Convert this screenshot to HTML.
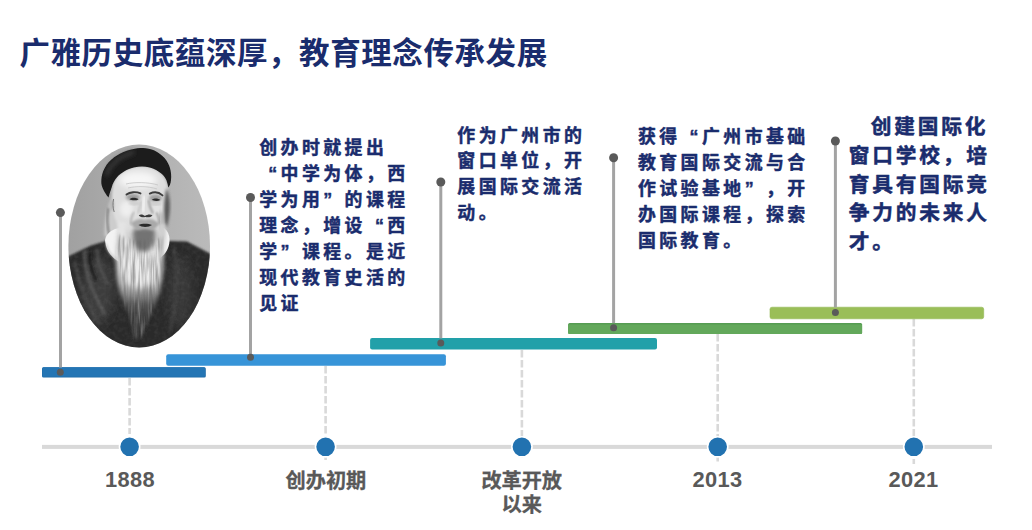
<!DOCTYPE html>
<html lang="zh-CN">
<head>
<meta charset="utf-8">
<title>广雅历史底蕴深厚，教育理念传承发展</title>
<style>
html,body{margin:0;padding:0;background:#fff;}
body{width:1032px;height:530px;position:relative;overflow:hidden;font-family:"Liberation Sans","Noto Sans CJK SC",sans-serif;}
.abs{position:absolute;left:0;top:0;}
</style>
</head>
<body>
<svg class="abs" width="1032" height="530" viewBox="0 0 1032 530">
<!-- timeline axis -->
<rect x="42" y="444.9" width="950" height="4" fill="#d9d9d9"/>
<g stroke="#d9d9d9" stroke-width="2.6" stroke-dasharray="7.5 2.5" fill="none">
<path d="M129.6 378V434"/>
<path d="M325.6 366V460"/>
<path d="M521.9 350V458"/>
<path d="M717.7 334V463"/>
<path d="M913.8 319V464"/>
</g>
<g fill="#2272b0" stroke="#fff" stroke-width="1.6">
<circle cx="129.6" cy="446.8" r="10.1"/>
<circle cx="325.6" cy="446.8" r="10.1"/>
<circle cx="521.9" cy="446.8" r="10.1"/>
<circle cx="717.7" cy="446.8" r="10.1"/>
<circle cx="913.8" cy="446.8" r="10.1"/>
</g>
<!-- bars -->
<rect x="42" y="367.2" width="163.8" height="10.4" rx="1.5" fill="#1f6aa6"/><rect x="42.4" y="367.2" width="162.6" height="9.6" rx="1.3" fill="#2475b4"/>
<rect x="166.2" y="354.2" width="279.7" height="11.5" rx="2" fill="#3794d8"/>
<rect x="370.1" y="338.1" width="286.9" height="11.5" rx="2" fill="#22a0a9"/>
<rect x="568.1" y="322.9" width="294" height="11" rx="1.5" fill="#569c53"/><rect x="568.1" y="324.6" width="294" height="9.3" rx="1.2" fill="#63a85b"/>
<rect x="770" y="307.2" width="213.7" height="11.6" rx="2" fill="#9abe58" stroke="#93b855" stroke-width="0.6"/>
<!-- stems -->
<g stroke="#a3a3a3" stroke-width="3">
<path d="M60.5 212.6V367.5"/>
<path d="M250.5 197.5V354.3"/>
<path d="M440.8 182V338.3"/>
<path d="M613.6 157.7V323.1"/>
<path d="M835.4 141V307.4"/>
</g>
<g fill="#5a5a5a">
<circle cx="60.4" cy="212.6" r="4.5"/><circle cx="60.3" cy="372.3" r="3.5"/>
<circle cx="250.5" cy="197.5" r="4.5"/><circle cx="250.5" cy="357.2" r="3.5"/>
<circle cx="440.8" cy="182" r="4.5"/><circle cx="440.8" cy="342.9" r="3.5"/>
<circle cx="613.6" cy="157.7" r="4.5"/><circle cx="613.6" cy="327.7" r="3.5"/>
<circle cx="835.4" cy="141" r="4.5"/><circle cx="835.4" cy="312.4" r="3.5"/>
</g>
</svg>

<svg class="abs" width="1032" height="530" viewBox="0 0 1032 530">
<defs>
<clipPath id="oval"><ellipse cx="139.2" cy="246" rx="70.8" ry="101.5"/></clipPath>
<filter id="f05" x="-20%" y="-20%" width="140%" height="140%"><feGaussianBlur stdDeviation="0.6"/></filter>
<filter id="f1" x="-30%" y="-30%" width="160%" height="160%"><feGaussianBlur stdDeviation="1"/></filter>
<filter id="f15" x="-30%" y="-30%" width="160%" height="160%"><feGaussianBlur stdDeviation="1.5"/></filter>
<filter id="f2" x="-40%" y="-40%" width="180%" height="180%"><feGaussianBlur stdDeviation="2"/></filter>
<filter id="f3" x="-50%" y="-50%" width="200%" height="200%"><feGaussianBlur stdDeviation="3.2"/></filter>
<filter id="f5" x="-60%" y="-60%" width="220%" height="220%"><feGaussianBlur stdDeviation="5"/></filter>
<linearGradient id="pbg" x1="0" y1="0" x2="1" y2="0"><stop offset="0" stop-color="#9f9f9f"/><stop offset="0.45" stop-color="#adadad"/><stop offset="1" stop-color="#bcbcbc"/></linearGradient>
<linearGradient id="beardg" gradientUnits="userSpaceOnUse" x1="0" y1="224" x2="0" y2="340"><stop offset="0" stop-color="#cfcfcf"/><stop offset="0.5" stop-color="#cdcdcd"/><stop offset="0.6" stop-color="#8e8e8e"/><stop offset="0.69" stop-color="#505050"/><stop offset="0.82" stop-color="#383838"/><stop offset="1" stop-color="#303030"/></linearGradient>
<linearGradient id="fadeg" gradientUnits="userSpaceOnUse" x1="0" y1="284" x2="0" y2="306"><stop offset="0" stop-color="#000"/><stop offset="1" stop-color="#fff"/></linearGradient>
<mask id="bm2" maskUnits="userSpaceOnUse" x="100" y="215" width="80" height="135"><g mask="url(#bm)"><rect x="100" y="215" width="80" height="135" fill="url(#fadeg)"/></g></mask>
<filter id="hair" x="0" y="0" width="100%" height="100%">
<feTurbulence type="fractalNoise" baseFrequency="0.42 0.035" numOctaves="2" seed="11" result="n"/>
<feColorMatrix in="n" type="matrix" values="0 0 0 0 0.12  0 0 0 0 0.12  0 0 0 0 0.12  2.2 0 0 0 -0.78" result="a"/>
<feComposite in="a" in2="SourceGraphic" operator="in"/>
</filter>
<filter id="hairw" x="0" y="0" width="100%" height="100%">
<feTurbulence type="fractalNoise" baseFrequency="0.5 0.04" numOctaves="2" seed="3" result="n"/>
<feColorMatrix in="n" type="matrix" values="0 0 0 0 0.85  0 0 0 0 0.85  0 0 0 0 0.85  2.4 0 0 0 -0.95" result="a"/>
<feComposite in="a" in2="SourceGraphic" operator="in"/>
</filter>
<mask id="bm" maskUnits="userSpaceOnUse" x="100" y="215" width="80" height="135">
<path filter="url(#f15)" d="M119 234 C116.500 250 116 262 117 274 C118 286 121 296 126 306 C130 318 132 328 134 340 L141 338 C146 326 151 316 154.500 306 C158.500 296 161.500 284 162.500 272 C163.500 260 163.500 248 163.500 236 C150 243 132 243 119 234Z" fill="#fff"/>
</mask>
<filter id="grain" x="0" y="0" width="100%" height="100%">
<feTurbulence type="fractalNoise" baseFrequency="0.22" numOctaves="2" seed="5" result="n"/>
<feColorMatrix in="n" type="matrix" values="0 0 0 0 0.55  0 0 0 0 0.55  0 0 0 0 0.55  1.6 0 0 0 -0.62" result="a"/>
<feComposite in="a" in2="SourceGraphic" operator="in"/>
</filter>
</defs>
<g clip-path="url(#oval)">
<rect x="60" y="140" width="160" height="215" fill="url(#pbg)"/>
<!-- robe -->
<path filter="url(#f1)" d="M60 262 L69 256 L91 245.5 L106 241 L170 241 L187 241.5 L209 253 L216 258 V360 H60Z" fill="#2c2c2c"/>
<!-- robe tonal areas -->
<ellipse filter="url(#f5)" cx="98" cy="290" rx="16" ry="34" fill="#3e3e3e"/>
<ellipse filter="url(#f5)" cx="180" cy="292" rx="12" ry="36" fill="#383838"/>
<!-- robe folds (left, lighter) -->
<g filter="url(#f15)" fill="none" stroke-linecap="round">
<path d="M85 251 C83 268 91 290 105 314" stroke="#606060" stroke-width="2.2"/>
<path d="M97 249 C98 262 101 272 107 283" stroke="#555" stroke-width="2"/>
<path d="M75 262 C77 280 85 300 99 324" stroke="#4a4a4a" stroke-width="2.4"/>
<path d="M90 252 C89 262 92 272 96 280" stroke="#161616" stroke-width="2.4"/>
<path d="M174 250 C178 270 178 300 170 330" stroke="#3f3f3f" stroke-width="3"/>
</g>
<g opacity="0.10" filter="url(#grain)"><path d="M60 262 L69 256 L91 245.500 L106 241 L170 241 L187 241.500 L209 253 L216 258 V360 H60Z" fill="#fff"/></g>
<!-- left hair / sideburn -->
<path filter="url(#f15)" d="M112 198 C107 208 104.500 222 104.500 236 L117 241 L122 226 L117 204Z" fill="#cdcdcd"/>
<path filter="url(#f1)" d="M108.500 208 C106.500 218 107.500 228 109.500 236" stroke="#737373" stroke-width="1.800" fill="none"/>
<!-- collar -->
<path filter="url(#f05)" d="M105 240 C106.500 233 112 229 120 228 L164 228 C168 231 170 236 169.500 241 C169 250 164 256.500 156 260.500 C146 265.500 130 266 121 262.500 C112 259 105.500 250 105 240Z" fill="#f3f3f3"/>
<path filter="url(#f1)" d="M106 244 C108 253 114 259 123 262" stroke="#c4c4c4" stroke-width="1.400" fill="none"/>
<!-- face -->
<path filter="url(#f1)" d="M112.500 189 C113.500 176 126 166.500 142 166.500 C156 166.500 166 175 167.500 187 C169 198 168.500 212 165 222 C161 232 152 238 142 238 C130 238 121 232 116.500 222 C112.500 214 111 200 112.500 189Z" fill="#dedede"/>
<!-- forehead highlight -->
<ellipse filter="url(#f3)" cx="138" cy="180" rx="19" ry="8.500" fill="#f6f6f6"/>
<ellipse filter="url(#f2)" cx="126.500" cy="209" rx="6.500" ry="8" fill="#efefef"/>
<ellipse filter="url(#f2)" cx="157" cy="209" rx="4" ry="5" fill="#e4e4e4"/>
<g filter="url(#f05)" stroke="#c4c4c4" stroke-width="0.800" fill="none">
<path d="M126 184 C134 182 148 182 158 185"/>
<path d="M128 188 C136 186 148 186 157 189"/>
</g>
<!-- right cheek / temple shadow -->
<path filter="url(#f15)" d="M166.500 188 C171 198 171 212 166.500 228 C163.500 220 163 204 166.500 188Z" fill="#555"/>
<path filter="url(#f2)" d="M161 212 C163 217 163 223 160 230" stroke="#9c9c9c" stroke-width="3" fill="none"/>
<!-- ear left -->
<ellipse filter="url(#f1)" cx="111.800" cy="205" rx="2.400" ry="6" fill="#b9b9b9"/>
<path filter="url(#f05)" d="M113.600 199 C112.600 203 112.800 208 114.200 212" stroke="#7a7a7a" stroke-width="1" fill="none"/>
<!-- hat -->
<path filter="url(#f05)" d="M108.500 197.500 C104 192 101 186 101.300 181 C101.500 172 106 163 114.500 157 C122 152 131 148.500 141 148 C150 147.500 158 151 164.500 158 C169.500 163.500 172 172 171 180 C170.600 184 169.500 186 168.300 187.500 C167.500 182 166 178 163 175 C158 170 151 167 142.800 166.500 C134 166 125 169.500 118.300 175.800 C114.500 179.500 112.500 184 111.700 187.200 C110.500 190.500 109.500 194 108.500 197.500Z" fill="#1a1a1a"/>
<path filter="url(#f2)" d="M107 174 C111 163 121 156 133 152.500" stroke="#3b3b3b" stroke-width="3.500" fill="none" stroke-linecap="round"/>
<!-- eye sockets shade -->
<g filter="url(#f15)" fill="#9b9b9b">
<ellipse cx="133" cy="197.300" rx="7" ry="3.600"/>
<ellipse cx="155.500" cy="198" rx="6.500" ry="3.600"/>
</g>
<!-- eyebrows -->
<g filter="url(#f05)" stroke="#3d3d3d" stroke-width="1.900" fill="none" stroke-linecap="round">
<path d="M126.500 194.600 C130 191.800 136 191.400 140.500 193.400"/>
<path d="M149.800 193.600 C154 191.600 159 192.200 162.500 195.400"/>
</g>
<!-- eyes -->
<g filter="url(#f05)" fill="#2c2c2c">
<path d="M129.500 199.200 C132 197.400 136 197.400 138.500 199.400 C136 200.700 132 200.700 129.500 199.200Z"/>
<path d="M151.800 199.800 C154 198 158 198 160.300 200 C158 201.300 154 201.300 151.800 199.800Z"/>
</g>
<!-- eye bags -->
<g filter="url(#f1)" stroke="#b0b0b0" stroke-width="1" fill="none">
<path d="M129 203 C132 204.500 136 204.500 139 203"/>
<path d="M151 203.600 C154 205 158 205 161 203.600"/>
</g>
<!-- nose -->
<path filter="url(#f1)" d="M144.500 197 L143 211" stroke="#f2f2f2" stroke-width="3" fill="none" stroke-linecap="round"/>
<path filter="url(#f1)" d="M148.500 200 C149 206 151 210 153 213.500" stroke="#9a9a9a" stroke-width="1.800" fill="none"/>
<path filter="url(#f1)" d="M141 201 C140.500 206 139 210 138 213" stroke="#b8b8b8" stroke-width="1.200" fill="none"/>
<path filter="url(#f05)" d="M138.800 215.200 C140.500 213.800 143.500 214.500 145 216 C147 214.600 150.500 214 152.500 215.400 C151 217.300 148 217.600 145.300 217 C143 217.800 140 217.200 138.800 215.200Z" fill="#3a3a3a"/>
<!-- cheek lines -->
<path filter="url(#f1)" d="M134 212 C131.500 216 130.500 220 131 225" stroke="#a0a0a0" stroke-width="1.300" fill="none"/>
<path filter="url(#f1)" d="M156.500 212.500 C158.500 216 159.500 220 159 225" stroke="#888" stroke-width="1.500" fill="none"/>
<!-- beard base -->
<path filter="url(#f2)" d="M119.500 224 C117 236 115.500 250 116 263 C116.500 274 118 284 120 292 C123 302 126 308 129 314 C131 322 132.500 332 134 340 C137 340 140 338 141.500 334.500 C146 324 151 314 154 306 C158 298 160 292 160.500 286 C162.500 276 163.500 270 163 263 C163.500 250 165 238 165 226 C158 233 150 236 142 236 C133 236 125 232 119.500 224Z" fill="url(#beardg)"/>
<!-- beard bright core -->
<path filter="url(#f3)" d="M121 246 C120 258 121 268 125 277 C130 285 137 288 142 288 C149 287 155 280 158.500 268 C160 260 160 252 159.500 246 C150 252 132 252 121 246Z" fill="#ececec"/>
<!-- beard side whiskers (bright) -->
<path filter="url(#f15)" d="M118 222 C117 232 118 242 121 250 L128 246 C126 238 125 230 126 222Z" fill="#e4e4e4"/>
<path filter="url(#f15)" d="M165 224 C166 232 165 242 162 250 L156 246 C158 238 159 230 158.500 224Z" fill="#d0d0d0"/>
<!-- chin dark patch -->
<path filter="url(#f2)" d="M133 230 C136 227 152 227 155 230 C156 238 153 246 149 250 C146 252 142 252 139 250 C135 246 132 238 133 230Z" fill="#737373"/>
<!-- beard texture strands -->
<g mask="url(#bm)" opacity="0.55"><g filter="url(#hair)"><rect x="112" y="226" width="58" height="116" fill="#222"/></g></g>
<g mask="url(#bm2)" opacity="0.28"><g filter="url(#hairw)"><rect x="112" y="280" width="58" height="62" fill="#ddd"/></g></g>
<!-- mustache & mouth -->
<path filter="url(#f1)" d="M131 223 C136 219 141 218.200 145 219.800 C149 218.200 154 219 159 223.500 C157 227.500 154 229.500 151 230 C148 227.500 142 227.500 139 230 C136 229.500 133 227.500 131 223Z" fill="#a9a9a9"/>
<path filter="url(#f05)" d="M138.500 225 C141.500 223.400 148.500 223.400 152 225 C148.500 227.600 142 227.600 138.500 225Z" fill="#2b2b2b"/>
</g>
</svg>

<svg class="abs" width="1032" height="530" viewBox="0 0 1032 530" font-family='"Liberation Sans","Noto Sans CJK SC",sans-serif' font-weight="bold">
<text fill="#1a2c6d" font-size="30.5" y="63.7" x="19.4 50.48 81.56 112.64 143.72 174.8 205.88 236.96 268.04 299.12 330.2 361.28 392.36 423.44 454.52 485.6 516.68">广雅历史底蕴深厚，教育理念传承发展</text>
<g fill="#1a2c6d" stroke="#1a2c6d" stroke-width="0.45" stroke-linejoin="round" font-size="17.9">
<text y="154.4" x="259.2 280.55 301.9 323.25 344.6 365.95">创办时就提出</text>
<text y="180.35" x="268.15 280.55 301.9 323.25 344.6 365.95 387.3">“中学为体，西</text>
<text y="206.3" x="259.2 280.55 301.9 323.25 344.6 365.95 387.3">学为用”的课程</text>
<text y="232.25" x="259.2 280.55 301.9 323.25 344.6 374.9 387.3">理念，增设“西</text>
<text y="258.2" x="259.2 280.55 301.9 323.25 344.6 365.95 387.3">学”课程。是近</text>
<text y="284.15" x="259.2 280.55 301.9 323.25 344.6 365.95 387.3">现代教育史活的</text>
<text y="310.1" x="259.2 280.55">见证</text>
<text y="141.5" x="457.3 478.65 500 521.35 542.7 564.05">作为广州市的</text>
<text y="167.45" x="457.3 478.65 500 521.35 542.7 564.05">窗口单位，开</text>
<text y="193.4" x="457.3 478.65 500 521.35 542.7 564.05">展国际交流活</text>
<text y="219.35" x="457.3 478.65">动。</text>
<text y="143.4" x="637.9 659.25 689.55 701.95 723.3 744.65 766 787.35">获得“广州市基础</text>
<text y="169.35" x="637.9 659.25 680.6 701.95 723.3 744.65 766 787.35">教育国际交流与合</text>
<text y="195.3" x="637.9 659.25 680.6 701.95 723.3 744.65 766 787.35">作试验基地”，开</text>
<text y="221.25" x="637.9 659.25 680.6 701.95 723.3 744.65 766 787.35">办国际课程，探索</text>
<text y="247.2" x="637.9 659.25 680.6 701.95 723.3">国际教育。</text>
</g>
<g fill="#1a2c6d" stroke="#1a2c6d" stroke-width="0.5" stroke-linejoin="round" font-size="20.7">
<text y="134.3" x="870.8 894.3 917.8 941.3 964.8">创建国际化</text>
<text y="162.9" x="848.8 872.3 895.8 919.3 942.8 966.3">窗口学校，培</text>
<text y="191.5" x="848.8 872.3 895.8 919.3 942.8 966.3">育具有国际竞</text>
<text y="220.1" x="848.8 872.3 895.8 919.3 942.8 966.3">争力的未来人</text>
<text y="248.7" x="848.8 872.3">才。</text>
</g>
<g fill="#595959" font-size="21.85">
<text y="487.4" x="105 117.49 129.99 142.48">1888</text>
<text y="487.4" x="692.6 705.09 717.59 730.08">2013</text>
<text y="487.4" x="888.6 901.09 913.59 926.08">2021</text>
</g>
<g fill="#595959" stroke="#595959" stroke-width="0.3" stroke-linejoin="round" font-size="20.2">
<text y="488" x="285.6 305.75 325.9 346.05">创办初期</text>
<text y="488" x="481.4 501.55 521.7 541.85">改革开放</text>
<text y="512.3" x="501.6 521.75">以来</text>
</g>
</svg>

</body>
</html>
